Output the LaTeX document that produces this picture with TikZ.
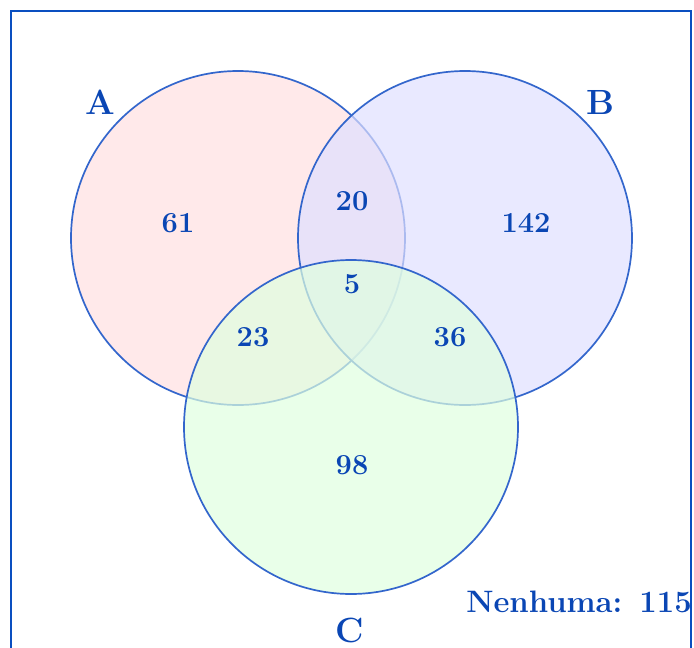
\documentclass[tikz,border=0pt]{standalone}
\definecolor{txtblue}{HTML}{0A46B4}
\definecolor{frameblue}{HTML}{0A4FC0}
\definecolor{edgeblue}{HTML}{3366CC}
\definecolor{fillA}{HTML}{FFDFE1}
\definecolor{fillB}{HTML}{DFDFFF}
\definecolor{fillC}{HTML}{DFFFDF}
\tikzset{
  setcircle/.style={draw=edgeblue, line width=1.7pt, fill opacity=0.7},
  setlabel/.style={text=txtblue, font=\fontsize{35}{40}\selectfont\bfseries, inner sep=0pt},
  countlabel/.style={text=txtblue, font=\fontsize{29}{34}\selectfont\bfseries, inner sep=0pt},
}
\begin{document}
\begin{tikzpicture}[x=1pt,y=-1pt]
\useasboundingbox (0,0) rectangle (694,648);
\clip (0,0) rectangle (694,648);
\draw[frameblue, line width=2.3pt] (11,700) -- (11,11) -- (691,11) -- (691,700);
\path[setcircle, fill=fillA] (238,238) circle[radius=167pt];
\path[setcircle, fill=fillB] (465,238) circle[radius=167pt];
\path[setcircle, fill=fillC] (351,427) circle[radius=167pt];
\node[setlabel] (la) at (100,102) {A};
\node[setlabel] (lb) at (600,102) {B};
\node[setlabel] (lc) at (350,630) {C};
\node[countlabel] (n61) at (178,223) {61};
\node[countlabel] (n20) at (352,201) {20};
\node[countlabel] (n142) at (526,223) {142};
\node[countlabel] (n5) at (352,284) {5};
\node[countlabel] (n23) at (253,337) {23};
\node[countlabel] (n36) at (450,337) {36};
\node[countlabel] (n98) at (352,465) {98};
\node[countlabel, font=\fontsize{31}{36}\selectfont\bfseries, anchor=east] (none) at (692,602) {Nenhuma:\hspace{0.55em}115};
\end{tikzpicture}
\end{document}
